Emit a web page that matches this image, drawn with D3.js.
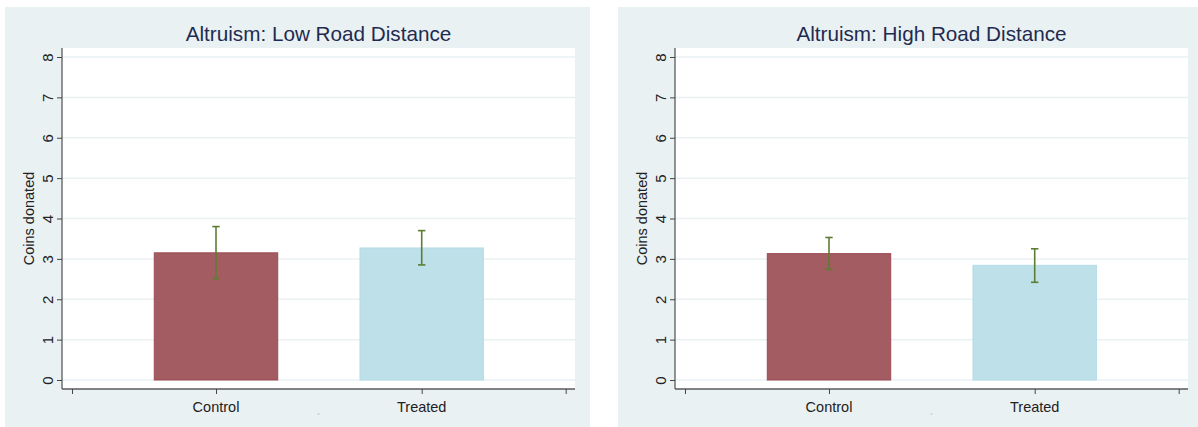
<!DOCTYPE html>
<html>
<head>
<meta charset="utf-8">
<script src="https://cdn.jsdelivr.net/npm/d3@7"></script>
<style>
  html, body { margin: 0; padding: 0; background: #ffffff; }
  svg { display: block; font-family: "Liberation Sans", Arial, sans-serif; }
</style>
</head>
<body>
<svg id="chart" width="1198" height="427"></svg>
<script>
// ---- data ----
const panelTitles = ["Altruism: Low Road Distance", "Altruism: High Road Distance"];
const categories = ["Control", "Treated"];
const categoryPos = [1, 2];
const lowMeans = [3.15, 3.27];
const lowCILow = [2.51, 2.85];
const lowCIHigh = [3.80, 3.70];
const highMeans = [3.13, 2.84];
const highCILow = [2.74, 2.42];
const highCIHigh = [3.53, 3.25];
const yTicks = [0, 1, 2, 3, 4, 5, 6, 7, 8];
const yTitle = "Coins donated";

const panels = [
  { title: panelTitles[0], means: lowMeans, lo: lowCILow, hi: lowCIHigh },
  { title: panelTitles[1], means: highMeans, lo: highCILow, hi: highCIHigh }
];

// ---- styles ----
const bgColor = "#eaf1f3";
const gridColor = "#eaf1f3";
const barFill = ["#a35c61", "#bee0e9"];
const barStroke = ["#9c4b55", "#b3dbe7"];
const errColor = "#5c7d33";
const titleColor = "#1e2b50";
const axisColor = "#5a5a5a";

const svg = d3.select("#chart");

const panelOffsets = [0, 613];

panels.forEach((p, i) => {
  const ox = panelOffsets[i];
  const g = svg.append("g").attr("transform", `translate(${ox},0)`);

  // panel background
  g.append("rect").attr("x", 5).attr("y", 7).attr("width", 585).attr("height", 420).attr("fill", bgColor);

  // plot region
  const plot = { left: 62, right: 575, top: 48, bottom: 389 };
  g.append("rect").attr("x", plot.left).attr("y", plot.top)
    .attr("width", plot.right - plot.left).attr("height", plot.bottom - plot.top).attr("fill", "#ffffff");

  const x = d3.scaleLinear().domain([0.3, 2.7]).range([72, 565.7]);
  const y = d3.scaleLinear().domain([0, 8]).range([380, 57]);

  // gridlines
  g.append("g").selectAll("line").data(yTicks).join("line")
    .attr("x1", plot.left).attr("x2", plot.right)
    .attr("y1", d => y(d)).attr("y2", d => y(d))
    .attr("stroke", gridColor).attr("stroke-width", 1.5);

  // bars
  const bw = x(1.3) - x(0.7);
  g.append("g").selectAll("rect").data(categories).join("rect")
    .attr("x", (d, j) => x(categoryPos[j]) - bw / 2)
    .attr("y", (d, j) => y(p.means[j]))
    .attr("width", bw)
    .attr("height", (d, j) => y(0) - y(p.means[j]))
    .attr("fill", (d, j) => barFill[j])
    .attr("stroke", (d, j) => barStroke[j])
    .attr("stroke-width", 1);

  // error bars
  const eg = g.append("g").attr("stroke", errColor).attr("stroke-width", 1.6);
  categories.forEach((c, j) => {
    const cx = x(categoryPos[j]);
    eg.append("line").attr("x1", cx).attr("x2", cx).attr("y1", y(p.lo[j])).attr("y2", y(p.hi[j]));
    eg.append("line").attr("x1", cx - 3.7).attr("x2", cx + 3.7).attr("y1", y(p.lo[j])).attr("y2", y(p.lo[j]));
    eg.append("line").attr("x1", cx - 3.7).attr("x2", cx + 3.7).attr("y1", y(p.hi[j])).attr("y2", y(p.hi[j]));
  });

  // y axis
  const yAxis = d3.axisLeft(y).tickValues(yTicks).tickSize(5).tickPadding(6).tickFormat(d3.format("d"));
  const ya = g.append("g").attr("transform", `translate(${plot.left},0)`).call(yAxis);
  ya.select(".domain").attr("d", `M0,${plot.top}V${plot.bottom}`).attr("stroke", axisColor).attr("stroke-width", 1.3);
  ya.selectAll(".tick line").attr("stroke", "#444").attr("stroke-width", 1);
  ya.selectAll(".tick text")
    .attr("font-size", 15).attr("fill", "#222")
    .attr("text-anchor", "middle")
    .attr("x", null).attr("dy", null)
    .attr("transform", "translate(-15,0) rotate(-90)")
    .attr("dominant-baseline", "central");

  // x axis
  const xAxis = d3.axisBottom(x).tickValues([0.3, 1, 2, 2.7]).tickSize(5).tickFormat("");
  const xa = g.append("g").attr("transform", `translate(0,${plot.bottom})`).call(xAxis);
  xa.select(".domain").attr("d", `M${plot.left},0H${plot.right}`).attr("stroke", axisColor).attr("stroke-width", 1.3);
  xa.selectAll(".tick line").attr("stroke", "#444").attr("stroke-width", 1);

  // category labels
  g.append("g").selectAll("text").data(categories).join("text")
    .attr("x", (d, j) => x(categoryPos[j]))
    .attr("y", 412)
    .attr("text-anchor", "middle")
    .attr("font-size", 14.5)
    .attr("fill", "#222")
    .text(d => d);

  // tiny empty x title mark
  g.append("line").attr("x1", (plot.left + plot.right) / 2 - 1).attr("x2", (plot.left + plot.right) / 2 + 1)
    .attr("y1", 414).attr("y2", 414).attr("stroke", "#b8c0c4").attr("stroke-width", 1);

  // y title
  g.append("text")
    .attr("transform", `translate(34,${(plot.top + plot.bottom) / 2}) rotate(-90)`)
    .attr("text-anchor", "middle")
    .attr("font-size", 14.5)
    .attr("fill", "#222")
    .text(yTitle);

  // title
  g.append("text")
    .attr("x", (plot.left + plot.right) / 2)
    .attr("y", 41)
    .attr("text-anchor", "middle")
    .attr("font-size", 20.7)
    .attr("fill", titleColor)
    .text(p.title);
});
</script>
</body>
</html>
